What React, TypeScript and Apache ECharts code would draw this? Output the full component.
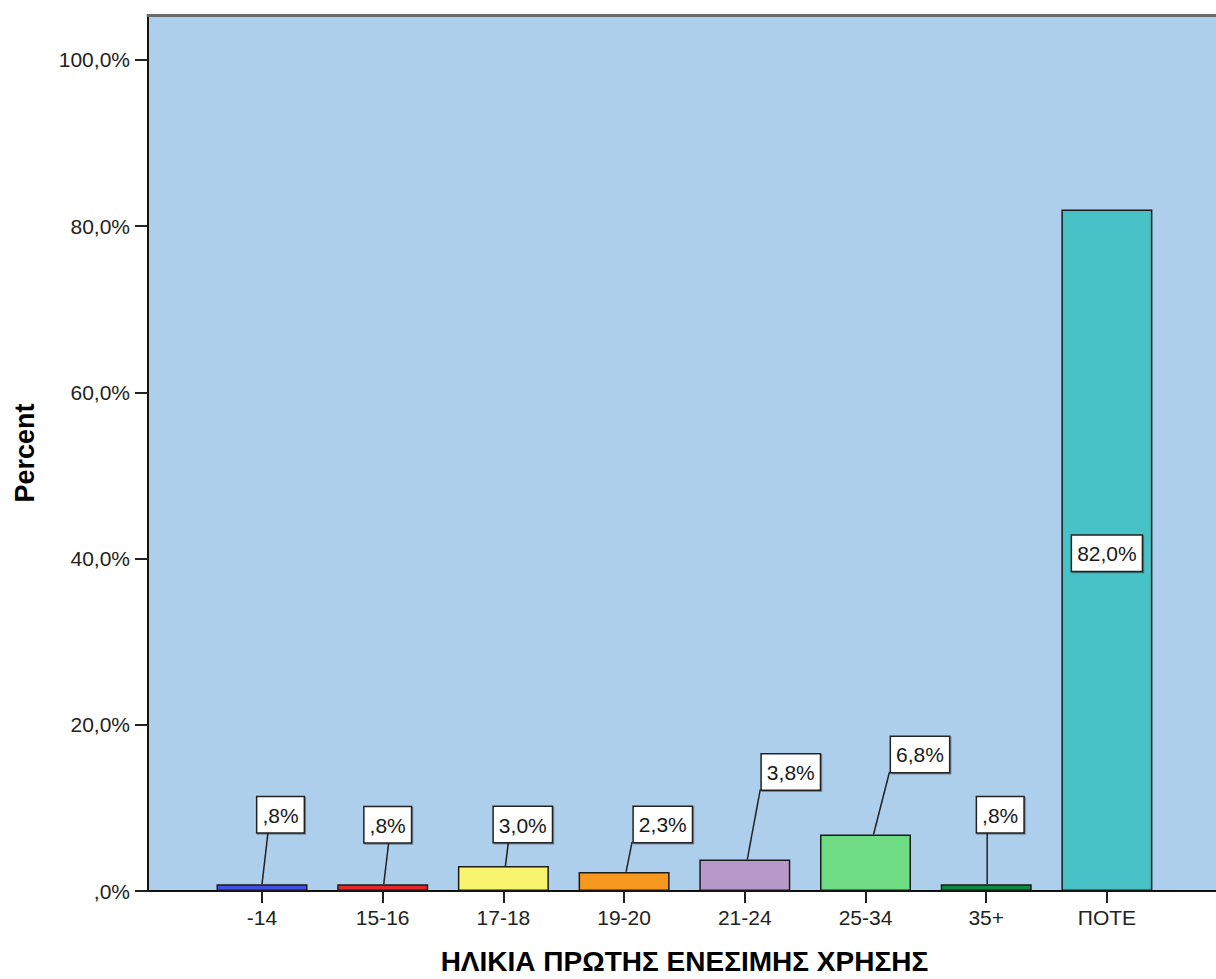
import React, { useEffect, useRef } from "react";
import * as echarts from "echarts";

const categories = ["-14", "15-16", "17-18", "19-20", "21-24", "25-34", "35+", "ΠΟΤΕ"];
const percentValues = [0.8, 0.8, 3.0, 2.3, 3.8, 6.8, 0.8, 82.0];
const yTickValues = [0, 20, 40, 60, 80, 100];
const xAxisTitle = "ΗΛΙΚΙΑ ΠΡΩΤΗΣ ΕΝΕΣΙΜΗΣ ΧΡΗΣΗΣ";
const yAxisTitle = "Percent";

// styling
const barColors = ["#4350E6", "#E4272C", "#F9F46E", "#F7981E", "#B898C8", "#6EDC82", "#0C8B3F", "#48C2C6"];
// label box placement (pixels): box centre dx from bar centre, box bottom dy from bar top
const labelBoxDx = [18.5, 5, 19.4, 38.7, 46, 54.5, 14, 0];
const labelBoxDy = [-52, -42, -24, -30, -70, -62.5, -52, 0];
const leaderStartDx = [0, 1, 2, 2, 2.5, 8, 1, 0];
const leaderEndDx = [6, 6, 5, 8, 15.5, 24, 1, 0];
const labelInside = [false, false, false, false, false, false, false, true];

const FONT = '"Liberation Sans", Arial, sans-serif';
const Y_MAX = 105.4;

function fmtPct(v: number): string {
  const s = v.toFixed(1).replace(".", ",");
  return (s.startsWith("0") ? s.slice(1) : s) + "%";
}

export default function App() {
  const ref = useRef<HTMLDivElement>(null);
  useEffect(() => {
    if (!ref.current) return;
    const chart = echarts.init(ref.current, null, { renderer: "svg" });
    const labelStyleBase = {
      font: `21px ${FONT}`,
      fill: "#1a1a1a",
      align: "center",
      backgroundColor: "#ffffff",
      borderColor: "#222222",
      borderWidth: 1.5,
      padding: [6, 5, 5, 5],
      lineHeight: 24,
      shadowColor: "rgba(0,0,0,0.35)",
      shadowOffsetX: 1,
      shadowOffsetY: 1,
      shadowBlur: 0,
    };
    const option: any = {
      animation: false,
      backgroundColor: "#ffffff",
      grid: [
        { left: 148, right: -40, top: 15, bottom: 88, show: true, backgroundColor: "#AECFEC", borderWidth: 0, containLabel: false, outerBoundsMode: "none" },
        { left: 201.65, right: 48.75, top: 15, bottom: 88, containLabel: false, outerBoundsMode: "none" },
      ],
      xAxis: [
        {
          gridIndex: 0,
          type: "value",
          min: 0,
          max: 1,
          axisLine: { show: true, lineStyle: { color: "#111", width: 2 } },
          axisTick: { show: false },
          axisLabel: { show: false },
          splitLine: { show: false },
        },
        {
          gridIndex: 0,
          type: "value",
          position: "top",
          min: 0,
          max: 1,
          axisLine: { show: true, lineStyle: { color: "#6a6a6a", width: 3 } },
          axisTick: { show: false },
          axisLabel: { show: false },
          splitLine: { show: false },
        },
        {
          gridIndex: 1,
          type: "category",
          data: categories,
          boundaryGap: true,
          axisLine: { show: true, lineStyle: { color: "#111", width: 2 } },
          axisTick: { show: true, alignWithLabel: true, length: 12, lineStyle: { color: "#222", width: 2 } },
          axisLabel: { fontFamily: FONT, fontSize: 21, color: "#222", margin: 16 },
          name: xAxisTitle,
          nameLocation: "middle",
          nameGap: 55,
          nameTextStyle: { fontFamily: FONT, fontSize: 28, fontWeight: "bold", color: "#000", lineHeight: 30 },
        },
      ],
      yAxis: [
        {
          gridIndex: 0,
          type: "value",
          min: 0,
          max: Y_MAX,
          axisLine: { show: true, lineStyle: { color: "#111", width: 2 } },
          axisTick: { show: true, length: 13, customValues: yTickValues, lineStyle: { color: "#222", width: 2 } },
          axisLabel: {
            customValues: yTickValues,
            formatter: (v: number) => fmtPct(v),
            fontFamily: FONT,
            fontSize: 21,
            color: "#222",
            margin: 18,
          },
          splitLine: { show: false },
          name: yAxisTitle,
          nameLocation: "middle",
          nameRotate: 90,
          nameGap: 110,
          nameTextStyle: { fontFamily: FONT, fontSize: 27, fontWeight: "bold", color: "#000" },
        },
        {
          gridIndex: 1,
          type: "value",
          min: 0,
          max: Y_MAX,
          show: false,
        },
      ],
      series: [
        {
          type: "bar",
          xAxisIndex: 2,
          yAxisIndex: 1,
          barWidth: "75.4%",
          data: percentValues.map((v, i) => ({
            value: v,
            itemStyle: { color: barColors[i], borderColor: "#1a1a1a", borderWidth: 1.5 },
          })),
          z: 3,
        },
        {
          type: "custom",
          xAxisIndex: 2,
          yAxisIndex: 1,
          z: 5,
          data: percentValues.map((v, i) => [i, v]),
          encode: { x: 0, y: 1 },
          renderItem: (params: any, api: any) => {
            const i = api.value(0);
            const v = api.value(1);
            const top = api.coord([i, v]);
            const base = api.coord([i, 0]);
            const text = fmtPct(v);
            if (labelInside[i]) {
              return {
                type: "text",
                x: top[0],
                y: (top[1] + base[1]) / 2 + 3,
                style: { ...labelStyleBase, text, verticalAlign: "middle" },
              };
            }
            const boxBottom = top[1] + labelBoxDy[i];
            return {
              type: "group",
              children: [
                {
                  type: "line",
                  shape: {
                    x1: top[0] + leaderStartDx[i],
                    y1: top[1],
                    x2: top[0] + leaderEndDx[i],
                    y2: boxBottom,
                  },
                  style: { stroke: "#222", lineWidth: 1.5 },
                },
                {
                  type: "text",
                  x: top[0] + labelBoxDx[i],
                  y: boxBottom,
                  style: { ...labelStyleBase, text, verticalAlign: "bottom" },
                },
              ],
            };
          },
        },
      ],
    };
    chart.setOption(option);
    return () => chart.dispose();
  }, []);
  return (
    <div
      ref={ref}
      style={{ position: "absolute", left: 0, top: 0, width: 1216, height: 979 }}
    />
  );
}
